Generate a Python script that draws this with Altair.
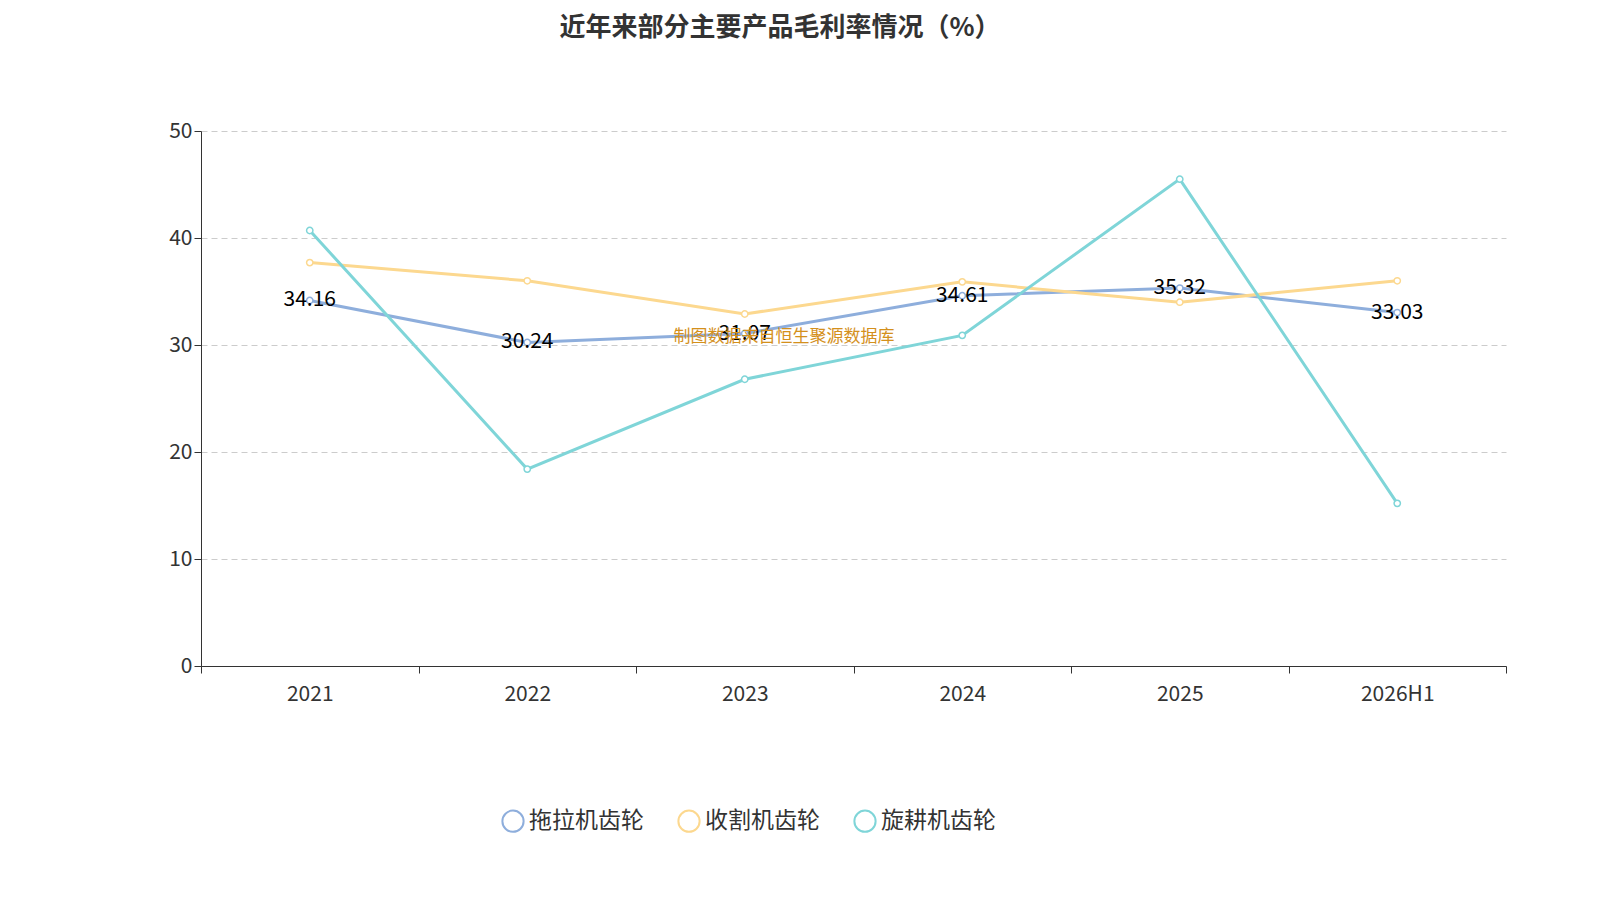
import altair as alt
import pandas as pd

years = ["2021", "2022", "2023", "2024", "2025", "2026H1"]
series_names = ["拖拉机齿轮", "收割机齿轮", "旋耕机齿轮"]
tractor = [34.16, 30.24, 31.07, 34.61, 35.32, 33.03]
harvester = [37.7, 36.0, 32.9, 35.9, 34.0, 36.0]
rotary = [40.7, 18.4, 26.8, 30.9, 45.5, 15.2]
colors = ["#8eaedc", "#fcd88f", "#7fd5d8"]

rows = []
for name, vals in zip(series_names, [tractor, harvester, rotary]):
    for y, v in zip(years, vals):
        rows.append({"year": y, "series": name, "value": v})
df = pd.DataFrame(rows)
font = "Noto Sans CJK SC"

x = alt.X("year:N", sort=years, title=None,
          scale=alt.Scale(paddingInner=0, paddingOuter=0),
          axis=alt.Axis(labelAngle=0, labelFontSize=21, labelColor="#333", labelPadding=10,
                        tickBand="extent", tickSize=7, domainColor="#333", tickColor="#333",
                        labelFont=font))
y = alt.Y("value:Q", title=None,
          scale=alt.Scale(domain=[0, 50]),
          axis=alt.Axis(values=[0, 10, 20, 30, 40, 50], labelFontSize=21, labelColor="#333",
                        gridDash=[6, 4], gridColor="#ccc", domainColor="#333", tickColor="#333",
                        tickSize=7, labelFont=font))
color_scale = alt.Scale(domain=series_names, range=colors)
color = alt.Color("series:N", sort=series_names, scale=color_scale,
                  legend=alt.Legend(title=None, orient="none", legendX=300, legendY=678,
                                    direction="horizontal", symbolType="circle", symbolSize=450,
                                    symbolFillColor="white", symbolStrokeWidth=2,
                                    labelFontSize=23, labelColor="#333", labelFont=font,
                                    columnPadding=30))

base = alt.Chart(df)
lines = base.mark_line(strokeWidth=3).encode(x=x, y=y, color=color)
pts = base.mark_point(filled=False, fill="white", fillOpacity=1, size=40, strokeWidth=1.5,
                      opacity=1).encode(
    x=x, y=y, stroke=alt.Stroke("series:N", scale=color_scale, legend=None))
labels = base.transform_filter(alt.datum.series == "拖拉机齿轮").mark_text(
    fontSize=21, color="black", font=font).encode(x=x, y=y, text=alt.Text("value:Q", format=".2f"))

title = alt.Chart(pd.DataFrame({"t": ["近年来部分主要产品毛利率情况（%）"]})).mark_text(
    fontSize=26, fontWeight="bold", color="#333", font=font).encode(
    x=alt.value(579), y=alt.value(-103), text="t:N")
footer = alt.Chart(pd.DataFrame({"t": ["制图数据来自恒生聚源数据库"]})).mark_text(
    fontSize=17, color="#d4901c", font=font).encode(
    x=alt.value(583), y=alt.value(206), text="t:N")

chart = (lines + pts + labels + title + footer).properties(
    width=1305, height=535,
    autosize=alt.AutoSizeParams(type="none"),
    padding={"left": 193, "top": 123, "right": 70, "bottom": 200},
).configure_view(stroke=None).configure_axisX(grid=False)

chart.save("out.html", embed_options={"renderer": "svg", "actions": False})
